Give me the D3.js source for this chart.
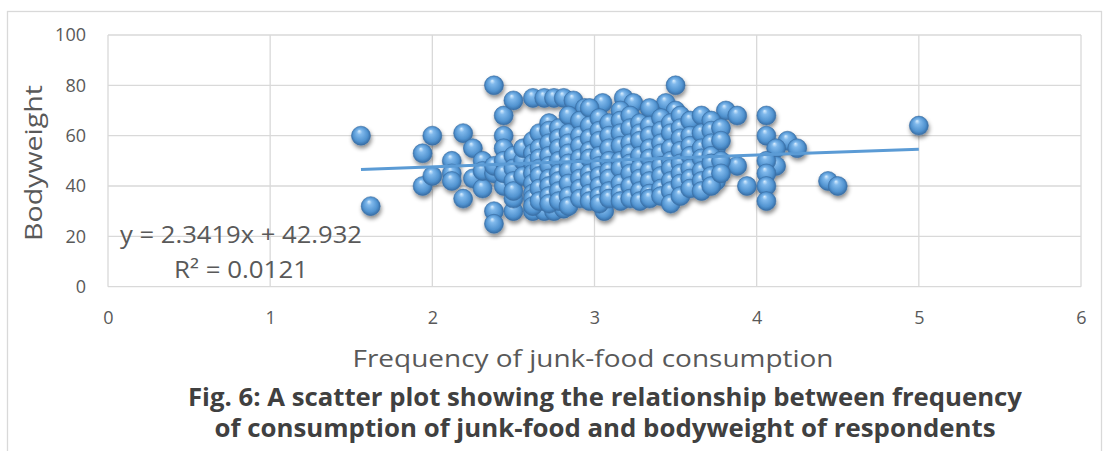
<!DOCTYPE html>
<html>
<head>
<meta charset="utf-8">
<script src="https://cdn.jsdelivr.net/npm/d3@7"></script>
<style>
  body { margin: 0; background: #fff; }
  text { font-family: "Open Sans", "Noto Sans", sans-serif; }
</style>
</head>
<body>
<div id="chart"></div>
<script>
// Data (frequency of junk-food consumption, bodyweight)
var freq = [
  1.56, 1.62, 1.94, 1.94, 2.00, 2.00, 2.12, 2.12, 2.12, 2.19, 2.19, 2.25, 2.25, 2.31, 2.31, 2.31,
  2.38, 2.38, 2.38, 2.38, 2.38, 2.44, 2.44, 2.44, 2.44, 2.44, 2.44, 2.50, 2.50, 2.50, 2.50, 2.50,
  2.50, 2.50, 2.56, 2.56, 2.56,
  2.62, 2.69, 2.75, 2.81, 2.87, 2.62, 2.69, 2.75, 2.81, 3.06,
  3.50, 3.18, 3.24, 3.05, 2.94, 3.44, 3.81, 3.37, 3.50, 3.88, 4.06, 4.06, 4.19, 4.25, 4.12, 4.12,
  4.06, 4.06, 4.06, 4.06, 3.94, 4.44, 4.50, 5.00, 3.88, 3.75, 3.75,
  2.62, 2.62, 2.62, 2.62, 2.62, 2.62, 2.62, 2.62,
  2.66, 2.66, 2.66, 2.66, 2.66, 2.66, 2.66,
  2.72, 2.72, 2.72, 2.72, 2.72, 2.72, 2.72, 2.72, 2.72,
  2.78, 2.78, 2.78, 2.78, 2.78, 2.78, 2.78, 2.78,
  2.84, 2.84, 2.84, 2.84, 2.84, 2.84, 2.84, 2.84, 2.84,
  2.91, 2.91, 2.91, 2.91, 2.91, 2.91, 2.91, 2.91,
  2.97, 2.97, 2.97, 2.97, 2.97, 2.97, 2.97, 2.97, 2.97,
  3.03, 3.03, 3.03, 3.03, 3.03, 3.03, 3.03, 3.03, 3.03,
  3.09, 3.09, 3.09, 3.09, 3.09, 3.09, 3.09, 3.09,
  3.16, 3.16, 3.16, 3.16, 3.16, 3.16, 3.16, 3.16, 3.16,
  3.22, 3.22, 3.22, 3.22, 3.22, 3.22, 3.22, 3.22,
  3.28, 3.28, 3.28, 3.28, 3.28, 3.28, 3.28, 3.28,
  3.34, 3.34, 3.34, 3.34, 3.34, 3.34, 3.34, 3.34, 3.34,
  3.41, 3.41, 3.41, 3.41, 3.41, 3.41, 3.41, 3.41,
  3.47, 3.47, 3.47, 3.47, 3.47, 3.47, 3.47, 3.47,
  3.53, 3.53, 3.53, 3.53, 3.53, 3.53, 3.53, 3.53,
  3.59, 3.59, 3.59, 3.59, 3.59, 3.59, 3.59,
  3.66, 3.66, 3.66, 3.66, 3.66, 3.66, 3.66,
  3.72, 3.72, 3.72, 3.72, 3.72, 3.72, 3.72,
  3.78, 3.78, 3.78, 3.78
];
var weight = [
  60, 32, 53, 40, 60, 44, 50, 45, 42, 61, 35, 55, 43, 50, 39, 46,
  80, 30, 25, 45, 48, 68, 60, 55, 40, 50, 45, 74, 30, 35, 52, 47,
  42, 38, 50, 44, 55,
  75, 75, 75, 75, 74, 30, 30, 30, 31, 30,
  80, 75, 73, 73, 71, 73, 70, 68, 70, 68, 68, 60, 58, 55, 55, 48,
  50, 45, 40, 34, 40, 42, 40, 64, 48, 55, 42,
  58, 53, 49, 45, 41, 37, 35, 32,
  61, 55, 51, 47, 44, 39, 34,
  65, 62, 57, 52, 48, 43, 40, 36, 33,
  63, 59, 55, 50, 45, 42, 38, 34,
  68, 61, 57, 53, 49, 46, 41, 36, 32,
  66, 60, 56, 51, 47, 43, 39, 35,
  71, 64, 59, 54, 51, 45, 42, 37, 34,
  67, 62, 58, 52, 48, 44, 40, 36, 33,
  65, 60, 55, 50, 46, 43, 38, 35,
  70, 66, 61, 56, 50, 47, 41, 37, 34,
  68, 63, 57, 53, 49, 45, 40, 35,
  65, 61, 58, 52, 47, 43, 38, 34,
  71, 64, 60, 55, 51, 46, 42, 37, 35,
  67, 62, 57, 53, 48, 44, 39, 36,
  65, 61, 55, 50, 47, 42, 38, 33,
  68, 63, 59, 54, 49, 45, 41, 36,
  66, 60, 56, 52, 47, 43, 39,
  68, 61, 55, 51, 46, 42, 38,
  66, 62, 57, 52, 49, 44, 40,
  63, 58, 50, 45
];
var xTicks = [0, 1, 2, 3, 4, 5, 6];
var yTicks = [0, 20, 40, 60, 80, 100];
var slope = 2.3419, intercept = 42.932;
var trendRange = [1.56, 5];

var points = freq.map(function(f, i) { return { x: f, y: weight[i] }; });

var width = 1109, height = 451;
var svg = d3.select("#chart").append("svg")
  .attr("width", width).attr("height", height);

// chart border
svg.append("rect")
  .attr("x", 7.5).attr("y", 11.5).attr("width", 1094).attr("height", 460)
  .attr("fill", "none").attr("stroke", "#d9d9d9").attr("stroke-width", 1.3);

var xScale = d3.scaleLinear().domain([0, 6]).range([108, 1081]);
var yScale = d3.scaleLinear().domain([0, 100]).range([286.7, 35]);

var defs = svg.append("defs");
var grad = defs.append("radialGradient").attr("id", "ball")
  .attr("cx", "50%").attr("cy", "50%").attr("r", "55%")
  .attr("fx", "40%").attr("fy", "25%");
grad.append("stop").attr("offset", "0%").attr("stop-color", "#dcefff");
grad.append("stop").attr("offset", "25%").attr("stop-color", "#80b9ec");
grad.append("stop").attr("offset", "70%").attr("stop-color", "#5193d0");
grad.append("stop").attr("offset", "100%").attr("stop-color", "#2f639a");

var shadow = defs.append("filter").attr("id", "shadow")
  .attr("x", "-50%").attr("y", "-50%").attr("width", "200%").attr("height", "220%");
shadow.append("feDropShadow").attr("dx", 1).attr("dy", 3)
  .attr("stdDeviation", 2.2).attr("flood-color", "#000").attr("flood-opacity", 0.45);

// gridlines
svg.append("g").selectAll("line").data(yTicks).enter().append("line")
  .attr("x1", xScale(0)).attr("x2", xScale(6))
  .attr("y1", function(d) { return yScale(d); })
  .attr("y2", function(d) { return yScale(d); })
  .attr("stroke", "#d9d9d9").attr("stroke-width", 1.3);
svg.append("g").selectAll("line").data(xTicks).enter().append("line")
  .attr("y1", yScale(0)).attr("y2", yScale(100))
  .attr("x1", function(d) { return xScale(d); })
  .attr("x2", function(d) { return xScale(d); })
  .attr("stroke", "#d9d9d9").attr("stroke-width", 1.3);

// axis tick labels
var xAxis = svg.append("g")
  .attr("transform", "translate(0," + (yScale(0) + 22) + ")")
  .call(d3.axisBottom(xScale).tickValues(xTicks).tickFormat(d3.format("d"))
    .tickSize(0).tickPadding(0));
var yAxis = svg.append("g")
  .attr("transform", "translate(" + (xScale(0) - 22) + ",0)")
  .call(d3.axisLeft(yScale).tickValues(yTicks).tickFormat(d3.format("d"))
    .tickSize(0).tickPadding(0));
[xAxis, yAxis].forEach(function(a) {
  a.select(".domain").remove();
  a.selectAll("text").attr("fill", "#595959")
    .style("font-family", "'Open Sans', sans-serif").style("font-size", "18px");
});
xAxis.selectAll("text").attr("dy", "0.85em");

// points
svg.append("g").attr("filter", "url(#shadow)")
  .selectAll("circle").data(points).enter().append("circle")
  .attr("cx", function(d) { return xScale(d.x); })
  .attr("cy", function(d) { return yScale(d.y); })
  .attr("r", 9.5)
  .attr("fill", "url(#ball)")
  .attr("stroke", "#3a6ea5").attr("stroke-width", 0.6);

// trendline
svg.append("line")
  .attr("x1", xScale(trendRange[0])).attr("y1", yScale(slope * trendRange[0] + intercept))
  .attr("x2", xScale(trendRange[1])).attr("y2", yScale(slope * trendRange[1] + intercept))
  .attr("stroke", "#5b9bd5").attr("stroke-width", 3);

// equation
svg.append("text").attr("x", 241).attr("y", 243).attr("text-anchor", "middle")
  .attr("fill", "#595959").style("font-size", "23px")
  .attr("textLength", 242).attr("lengthAdjust", "spacingAndGlyphs")
  .text("y = 2.3419x + 42.932");
svg.append("text").attr("x", 241).attr("y", 278).attr("text-anchor", "middle")
  .attr("fill", "#595959").style("font-size", "23px")
  .attr("textLength", 134).attr("lengthAdjust", "spacingAndGlyphs")
  .text("R² = 0.0121");

// axis titles
svg.append("text")
  .attr("transform", "translate(42,163) rotate(-90)")
  .attr("text-anchor", "middle").attr("fill", "#595959").style("font-size", "24px")
  .attr("textLength", 156).attr("lengthAdjust", "spacingAndGlyphs")
  .text("Bodyweight");
svg.append("text").attr("x", 593).attr("y", 367).attr("text-anchor", "middle")
  .attr("fill", "#595959").style("font-size", "24px")
  .attr("textLength", 481).attr("lengthAdjust", "spacingAndGlyphs")
  .text("Frequency of junk-food consumption");

// caption
svg.append("text").attr("x", 605).attr("y", 406).attr("text-anchor", "middle")
  .attr("fill", "#404040").style("font-size", "25px").style("font-weight", "bold")
  .attr("textLength", 834).attr("lengthAdjust", "spacingAndGlyphs")
  .text("Fig. 6: A scatter plot showing the relationship between frequency");
svg.append("text").attr("x", 605).attr("y", 437).attr("text-anchor", "middle")
  .attr("fill", "#404040").style("font-size", "25px").style("font-weight", "bold")
  .attr("textLength", 781).attr("lengthAdjust", "spacingAndGlyphs")
  .text("of consumption of junk-food and bodyweight of respondents");
</script>
</body>
</html>
